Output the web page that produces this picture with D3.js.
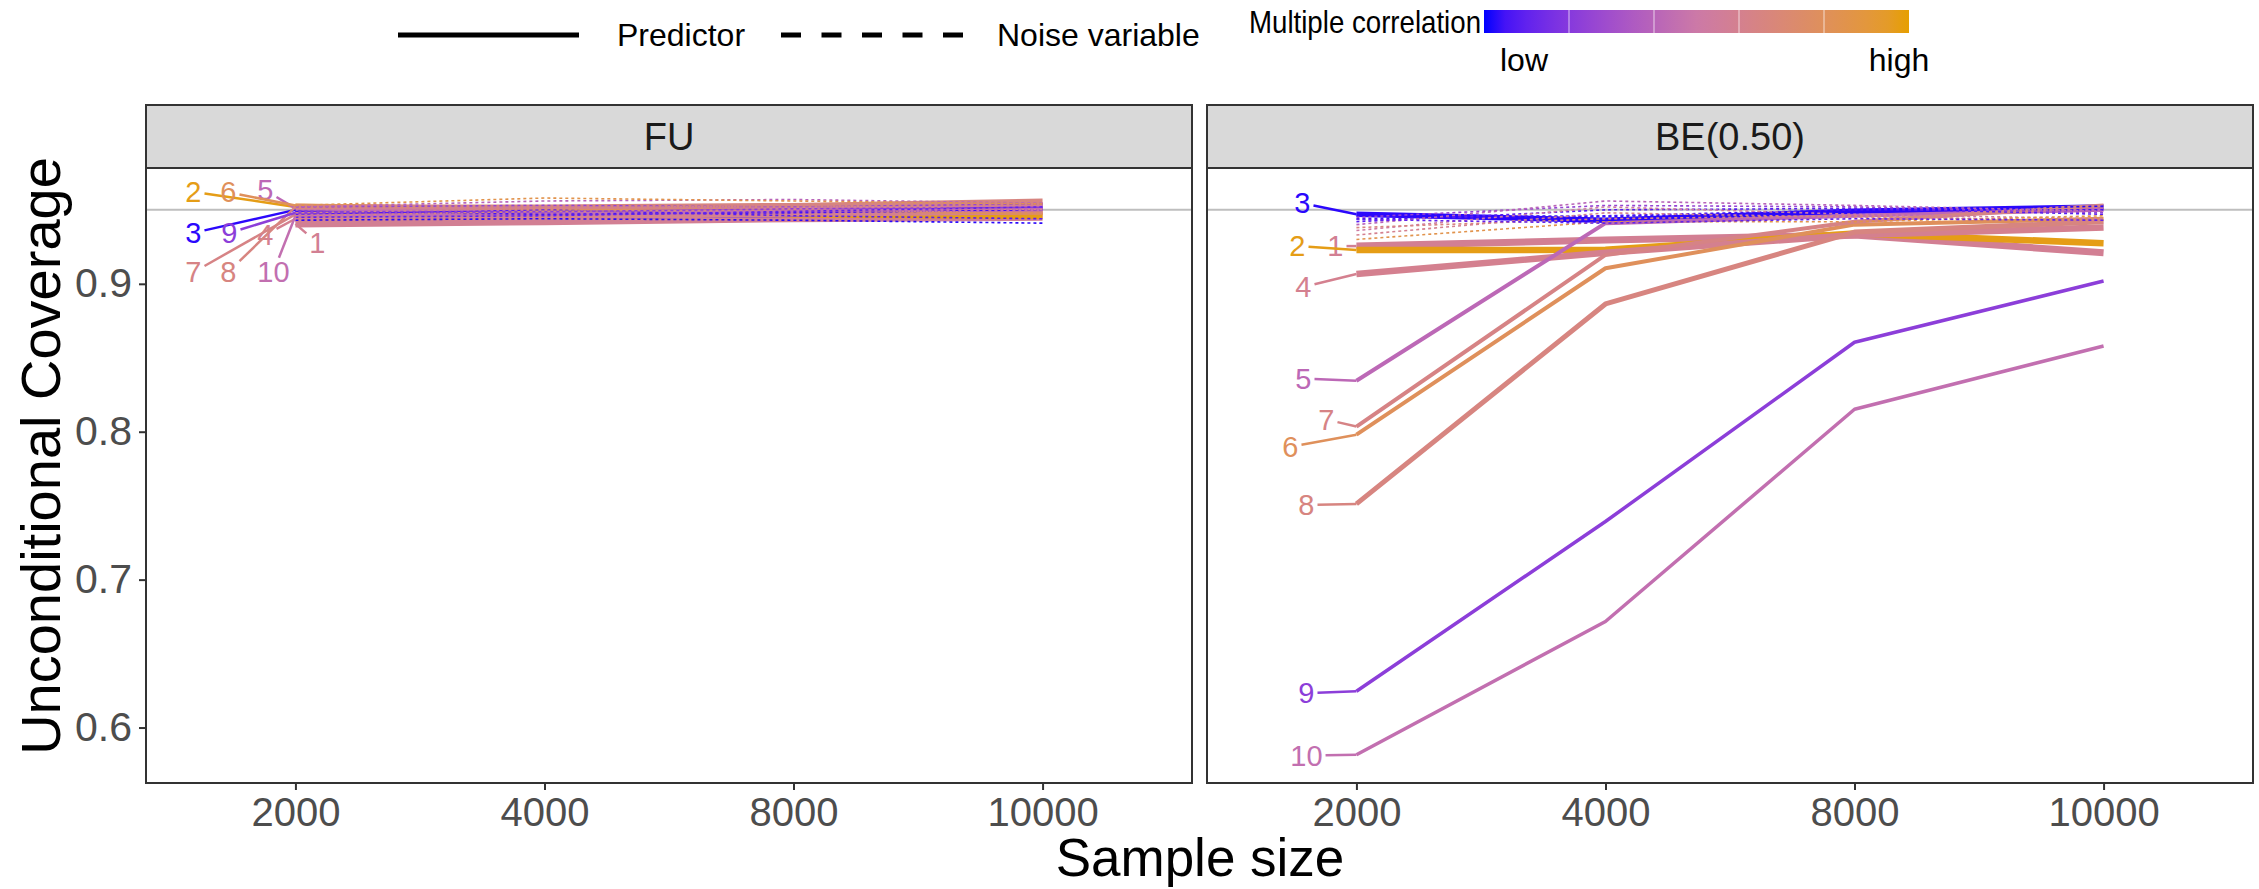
<!DOCTYPE html>
<html>
<head>
<meta charset="utf-8">
<script src="https://cdn.jsdelivr.net/npm/d3@7"></script>
<style>
  html, body { margin: 0; padding: 0; background: #ffffff; }
  svg { display: block; font-family: "Liberation Sans", Arial, sans-serif; }
</style>
</head>
<body>
<svg id="chart" width="2259" height="889"></svg>
<script>
// ---- data -------------------------------------------------------------
const sampleSizes = ["2000", "4000", "8000", "10000"];
const panelNames = ["FU", "BE(0.50)"];
const yTicks = [0.6, 0.7, 0.8, 0.9];
const nominalLevel = 0.95;

// predictors 1..10 : multiple correlation with the other predictors (0 = low, 1 = high)
const predictorIds = ["1", "2", "3", "4", "5", "6", "7", "8", "9", "10"];
const predictorCorrelation = [0.58, 0.98, 0.02, 0.60, 0.42, 0.80, 0.64, 0.66, 0.22, 0.45];

// coverage per predictor at n = 2000, 4000, 8000, 10000
const coverageFU = [
  [0.9405, 0.9420, 0.9440, 0.9450],
  [0.9520, 0.9500, 0.9470, 0.9460],
  [0.9500, 0.9455, 0.9470, 0.9530],
  [0.9440, 0.9455, 0.9475, 0.9490],
  [0.9510, 0.9490, 0.9490, 0.9520],
  [0.9530, 0.9510, 0.9500, 0.9480],
  [0.9470, 0.9480, 0.9500, 0.9540],
  [0.9520, 0.9520, 0.9530, 0.9560],
  [0.9480, 0.9480, 0.9500, 0.9510],
  [0.9460, 0.9470, 0.9490, 0.9500]
];
const coverageBE = [
  [0.9255, 0.9296, 0.9330, 0.9210],
  [0.9228, 0.9230, 0.9340, 0.9275],
  [0.9470, 0.9430, 0.9490, 0.9520],
  [0.9066, 0.9210, 0.9330, 0.9380],
  [0.8345, 0.9410, 0.9460, 0.9500],
  [0.7980, 0.9105, 0.9400, 0.9440],
  [0.8035, 0.9195, 0.9420, 0.9530],
  [0.7512, 0.8864, 0.9350, 0.9420],
  [0.6245, 0.7393, 0.8605, 0.9019],
  [0.5816, 0.6717, 0.8152, 0.8580]
];

// noise variables
const noiseCorrelation = [0.02, 0.05, 0.08, 0.25, 0.40, 0.52, 0.60, 0.85, 0.66, 0.10];
const noiseFU = [
  [0.9430, 0.9440, 0.9430, 0.9410],
  [0.9490, 0.9470, 0.9480, 0.9500],
  [0.9470, 0.9500, 0.9460, 0.9440],
  [0.9520, 0.9530, 0.9520, 0.9540],
  [0.9520, 0.9560, 0.9570, 0.9545],
  [0.9500, 0.9520, 0.9510, 0.9530],
  [0.9480, 0.9510, 0.9530, 0.9500],
  [0.9530, 0.9580, 0.9560, 0.9540],
  [0.9460, 0.9490, 0.9500, 0.9480],
  [0.9450, 0.9460, 0.9490, 0.9520]
];
const noiseBE = [
  [0.9465, 0.9455, 0.9490, 0.9525],
  [0.9440, 0.9460, 0.9500, 0.9500],
  [0.9420, 0.9500, 0.9510, 0.9470],
  [0.9450, 0.9530, 0.9520, 0.9480],
  [0.9400, 0.9560, 0.9530, 0.9490],
  [0.9360, 0.9520, 0.9470, 0.9440],
  [0.9330, 0.9480, 0.9450, 0.9430],
  [0.9300, 0.9420, 0.9420, 0.9460],
  [0.9380, 0.9440, 0.9460, 0.9420],
  [0.9435, 0.9410, 0.9440, 0.9430]
];

// ---- styling / layout ------------------------------------------------
const predictorWidth = [7, 6.5, 5.5, 6.5, 4, 4, 4, 5, 3.5, 3.5];
// repelled label offsets (px) from each series' first point, per panel
const labelOffsetsFU = [
  [22, 19], [-102, -15], [-102, 23], [-30, 16], [-30, -18],
  [-67, -13], [-102, 58], [-67, 65], [-66, 20], [-22, 56]
];
const labelOffsetsBE = [
  [-21, 0], [-59, -4], [-54, -11], [-53, 13], [-53, -2],
  [-66, 12], [-30, -7], [-50, 1], [-50, 2], [-50, 1]
];

const colour = d3.scaleLinear()
  .domain([0, 0.5, 1])
  .range(["#0000FF", "#CC79A7", "#E69F00"])
  .interpolate(d3.interpolateLab);

const svg = d3.select("#chart");

const panelTop = 168, panelBottom = 783, stripTop = 105;
const panelX = [[146, 1192], [1207, 2253]];

const y = d3.scaleLinear().domain([0.5625, 0.9783]).range([panelBottom, panelTop]);

const panelData = [
  { name: panelNames[0], pred: coverageFU, noise: noiseFU, offsets: labelOffsetsFU },
  { name: panelNames[1], pred: coverageBE, noise: noiseBE, offsets: labelOffsetsBE }
];

const labelFont = 29;

panelData.forEach((pd, pi) => {
  const [x0, x1] = panelX[pi];
  const x = d3.scalePoint().domain(sampleSizes).range([x0, x1]).padding(0.6);
  const g = svg.append("g");

  // strip
  g.append("rect").attr("x", x0).attr("y", stripTop)
    .attr("width", x1 - x0).attr("height", panelTop - stripTop)
    .attr("fill", "#D9D9D9").attr("stroke", "#333333").attr("stroke-width", 2);
  g.append("text").attr("x", (x0 + x1) / 2).attr("y", (stripTop + panelTop) / 2)
    .attr("text-anchor", "middle").attr("dominant-baseline", "central")
    .attr("font-size", 38).attr("fill", "#1A1A1A").text(pd.name);

  // panel background
  g.append("rect").attr("x", x0).attr("y", panelTop)
    .attr("width", x1 - x0).attr("height", panelBottom - panelTop)
    .attr("fill", "#ffffff");

  const clipId = "clip" + pi;
  svg.append("clipPath").attr("id", clipId).append("rect")
    .attr("x", x0).attr("y", panelTop).attr("width", x1 - x0).attr("height", panelBottom - panelTop);

  const plot = g.append("g").attr("clip-path", `url(#${clipId})`);

  // nominal level reference
  plot.append("line").attr("x1", x0).attr("x2", x1)
    .attr("y1", y(nominalLevel)).attr("y2", y(nominalLevel))
    .attr("stroke", "#BEBEBE").attr("stroke-width", 2);

  const line = d3.line().x((d, i) => x(sampleSizes[i])).y(d => y(d));

  // predictors
  pd.pred.forEach((vals, k) => {
    plot.append("path").attr("d", line(vals))
      .attr("fill", "none")
      .attr("stroke", colour(predictorCorrelation[k]))
      .attr("stroke-width", predictorWidth[k])
      .attr("stroke-linejoin", "round");
  });
  // noise variables
  pd.noise.forEach((vals, k) => {
    plot.append("path").attr("d", line(vals))
      .attr("fill", "none")
      .attr("stroke", colour(noiseCorrelation[k]))
      .attr("stroke-width", 1.6)
      .attr("stroke-dasharray", "3,3");
  });

  // labels with leader segments
  pd.pred.forEach((vals, k) => {
    const px = x(sampleSizes[0]), py = y(vals[0]);
    const [dx, dy] = pd.offsets[k];
    const lx = px + dx, ly = py + dy;
    const txt = predictorIds[k];
    const w = txt.length * labelFont * 0.556 / 2 + 3, h = 14;
    // clip segment at the label box
    const vx = px - lx, vy = py - ly;
    const tx = vx !== 0 ? w / Math.abs(vx) : Infinity;
    const ty = vy !== 0 ? h / Math.abs(vy) : Infinity;
    const t = Math.min(tx, ty);
    if (t < 1) {
      g.append("line")
        .attr("x1", lx + vx * t).attr("y1", ly + vy * t)
        .attr("x2", px).attr("y2", py)
        .attr("stroke", colour(predictorCorrelation[k])).attr("stroke-width", 2.5);
    }
    g.append("text").attr("x", lx).attr("y", ly)
      .attr("text-anchor", "middle").attr("dominant-baseline", "central")
      .attr("font-size", labelFont).attr("fill", colour(predictorCorrelation[k]))
      .text(txt);
  });

  // border
  g.append("rect").attr("x", x0).attr("y", panelTop)
    .attr("width", x1 - x0).attr("height", panelBottom - panelTop)
    .attr("fill", "none").attr("stroke", "#333333").attr("stroke-width", 2);

  // x axis
  const xa = svg.append("g").attr("transform", `translate(0,${panelBottom})`)
    .call(d3.axisBottom(x).tickSize(7).tickPadding(8));
  xa.select(".domain").remove();
  xa.selectAll(".tick line").attr("stroke", "#333333").attr("stroke-width", 2);
  xa.selectAll(".tick text").attr("font-size", 40).attr("fill", "#4D4D4D")
    .attr("font-family", "Liberation Sans, Arial, sans-serif");

  if (pi === 0) {
    const ya = svg.append("g").attr("transform", `translate(${x0},0)`)
      .call(d3.axisLeft(y).tickValues(yTicks).tickFormat(d3.format(".1f")).tickSize(7).tickPadding(7));
    ya.select(".domain").remove();
    ya.selectAll(".tick line").attr("stroke", "#333333").attr("stroke-width", 2);
    ya.selectAll(".tick text").attr("font-size", 41).attr("fill", "#4D4D4D")
      .attr("font-family", "Liberation Sans, Arial, sans-serif");
  }
});

// axis titles
svg.append("text").attr("x", 1200).attr("y", 876)
  .attr("text-anchor", "middle")
  .attr("font-size", 53).attr("fill", "#000").text("Sample size");
svg.append("text")
  .attr("transform", "translate(40,456) rotate(-90)")
  .attr("text-anchor", "middle").attr("dominant-baseline", "central")
  .attr("font-size", 56).attr("fill", "#000").text("Unconditional Coverage");

// ---- legend ----------------------------------------------------------
const leg = svg.append("g");
leg.append("line").attr("x1", 398).attr("x2", 579).attr("y1", 35).attr("y2", 35)
  .attr("stroke", "#000").attr("stroke-width", 5);
leg.append("text").attr("x", 617).attr("y", 35).attr("dominant-baseline", "central")
  .attr("font-size", 32).text("Predictor");
leg.append("line").attr("x1", 781).attr("x2", 963).attr("y1", 35).attr("y2", 35)
  .attr("stroke", "#000").attr("stroke-width", 5).attr("stroke-dasharray", "20,20.5");
leg.append("text").attr("x", 997).attr("y", 35).attr("dominant-baseline", "central")
  .attr("font-size", 32).text("Noise variable");
leg.append("text").attr("x", 1249).attr("y", 22)
  .attr("textLength", 232).attr("lengthAdjust", "spacingAndGlyphs")
  .attr("dominant-baseline", "central").attr("font-size", 32).text("Multiple correlation");

const barScale = d3.scaleLinear().domain([0, 1]).range([1484, 1909]);
const defs = svg.append("defs");
const grad = defs.append("linearGradient").attr("id", "corrGrad");
d3.range(0, 1.0001, 0.05).forEach(t => {
  grad.append("stop").attr("offset", `${t * 100}%`).attr("stop-color", colour(t));
});
leg.append("rect").attr("x", barScale(0)).attr("y", 10)
  .attr("width", barScale(1) - barScale(0)).attr("height", 23)
  .attr("fill", "url(#corrGrad)");
[0.2, 0.4, 0.6, 0.8].forEach(t => {
  leg.append("line").attr("x1", barScale(t)).attr("x2", barScale(t))
    .attr("y1", 10).attr("y2", 33).attr("stroke", "#ffffff").attr("stroke-opacity", 0.7).attr("stroke-width", 1);
});
leg.append("text").attr("x", 1524).attr("y", 60).attr("text-anchor", "middle")
  .attr("dominant-baseline", "central").attr("font-size", 32).text("low");
leg.append("text").attr("x", 1899).attr("y", 60).attr("text-anchor", "middle")
  .attr("dominant-baseline", "central").attr("font-size", 32).text("high");
</script>
</body>
</html>
